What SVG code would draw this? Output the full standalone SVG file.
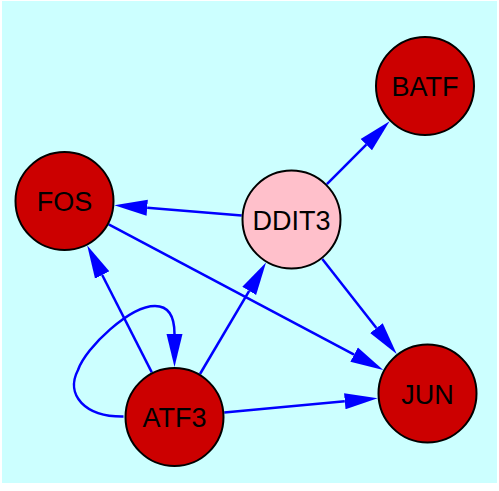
<svg xmlns="http://www.w3.org/2000/svg" width="499" height="491" viewBox="0 0 499 491">
<style>
.edge{fill:none;stroke:#0000ff;stroke-width:2.5;marker-end:url(#arr)}
.node circle{stroke:#000;stroke-width:2}
.red{fill:#cc0000}
.pink{fill:#ffc0cb}
.node text{font-family:"Liberation Sans",Arial,sans-serif;font-size:27px;fill:#000;text-anchor:middle}
</style>
<defs>
<marker id="arr" markerUnits="userSpaceOnUse" markerWidth="34" markerHeight="18" viewBox="0 -9 34 18" refX="0" refY="0" orient="auto">
<path d="M0,-8 L33,0 L0,8 z" fill="#0000ff"/>
</marker>
</defs>
<rect x="0" y="0" width="499" height="491" fill="#ffffff"/>
<rect x="2" y="1" width="495" height="482" fill="#ccffff"/>
<g id="connectors">
<path class="edge" d="M326.9,184.2 L366.3,144.7"/>
<path class="edge" d="M241.7,215.4 L147.2,207.8"/>
<path class="edge" d="M108.7,224.4 L354.1,354.6"/>
<path class="edge" d="M322.3,258.9 L376.4,328.1"/>
<path class="edge" d="M151.8,372.4 L102.2,275.0"/>
<path class="edge" d="M200,374 L249.2,290.9"/>
<path class="edge" d="M224.3,412.4 L344.8,401.2"/>
<path class="edge" d="M123.5,416.5 C85,417 65,395 78,370 C86,347 130,306 155,306 C170,306 174.5,318 174.5,334"/>
</g>
<g id="node-BATF" class="node"><circle class="red" cx="425" cy="86" r="49"/><text x="425" y="96">BATF</text></g>
<g id="node-FOS" class="node"><circle class="red" cx="64.5" cy="201" r="49"/><text x="64.5" y="211">FOS</text></g>
<g id="node-DDIT3" class="node"><circle class="pink" cx="291.5" cy="219.5" r="49"/><text x="291.5" y="229.5">DDIT3</text></g>
<g id="node-ATF3" class="node"><circle class="red" cx="174.5" cy="417" r="49"/><text x="174.5" y="427">ATF3</text></g>
<g id="node-JUN" class="node"><circle class="red" cx="427.5" cy="393.5" r="49"/><text x="427.5" y="403.5">JUN</text></g>
</svg>
